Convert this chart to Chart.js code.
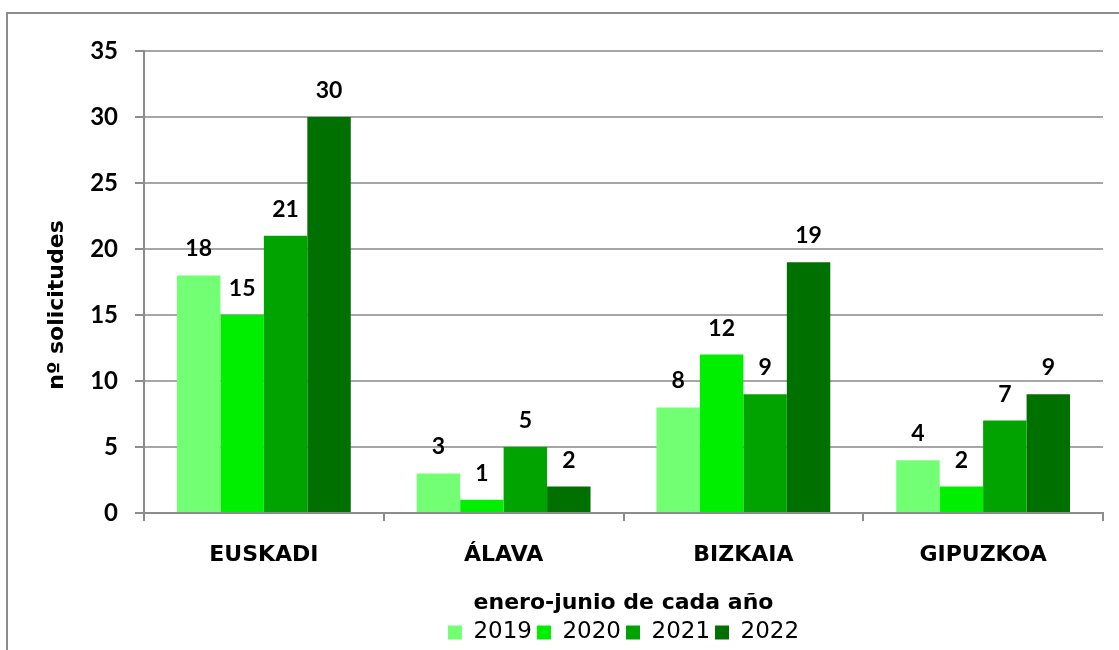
<!DOCTYPE html>
<html>
<head>
<meta charset="utf-8">
<script src="https://cdn.jsdelivr.net/npm/chart.js@4/dist/chart.umd.min.js"></script>
<style>
  html, body { margin: 0; padding: 0; background: #fff; }
  #wrap { width: 1119px; height: 650px; position: relative; }
</style>
</head>
<body>
<div id="wrap"><canvas id="chart" width="1119" height="650"></canvas></div>
<script>
// datos
const provincias = ["EUSKADI", "ÁLAVA", "BIZKAIA", "GIPUZKOA"];
const anios = ["2019", "2020", "2021", "2022"];
const v2019 = [18, 3, 8, 4];
const v2020 = [15, 1, 12, 2];
const v2021 = [21, 5, 9, 7];
const v2022 = [30, 2, 19, 9];
const colores = ["#73ff73", "#00ee00", "#00a300", "#007000"];
const yTicks = [0, 5, 10, 15, 20, 25, 30, 35];

const series = [v2019, v2020, v2021, v2022];

// marco exterior
const marco = {
  id: "marco",
  beforeDraw(chart) {
    const ctx = chart.ctx;
    ctx.save();
    ctx.fillStyle = "#fff";
    ctx.fillRect(0, 0, chart.width, chart.height);
    ctx.strokeStyle = "#8c8c8c";
    ctx.lineWidth = 2;
    ctx.strokeRect(7, 13, chart.width + 20, chart.height + 20);
    ctx.restore();
  }
};

// etiquetas encima de cada barra
const etiquetas = {
  id: "etiquetas",
  afterDatasetsDraw(chart) {
    const ctx = chart.ctx;
    ctx.save();
    ctx.font = "bold 23px Lato";
    ctx.fillStyle = "#000";
    ctx.textAlign = "center";
    ctx.textBaseline = "alphabetic";
    chart.data.datasets.forEach((ds, i) => {
      chart.getDatasetMeta(i).data.forEach((bar, j) => {
        ctx.fillText(ds.data[j], bar.x, bar.y - 19);
      });
    });
    ctx.restore();
  }
};

new Chart(document.getElementById("chart"), {
  type: "bar",
  data: {
    labels: provincias,
    datasets: anios.map((a, i) => ({
      label: a,
      data: series[i],
      backgroundColor: colores[i],
      borderWidth: 0,
      categoryPercentage: 0.725,
      barPercentage: 1
    }))
  },
  options: {
    responsive: false,
    animation: false,
    layout: { padding: { top: 51, right: 16, left: 0, bottom: -4 } },
    plugins: {
      tooltip: { enabled: false },
      legend: {
        position: "bottom",
        fullSize: false,
        labels: {
          boxWidth: 14,
          boxHeight: 14,
          padding: 5,
          color: "#000",
          font: { family: "DejaVu Sans", size: 23 }
        }
      }
    },
    scales: {
      x: {
        afterFit: (s) => { s.height = 103; },
        grid: {
          offset: true,
          drawOnChartArea: false,
          tickLength: 8,
          color: "#8c8c8c",
          lineWidth: 2
        },
        border: { color: "#8c8c8c", width: 2 },
        ticks: {
          padding: 21,
          color: "#000",
          font: { family: "DejaVu Sans", size: 22, weight: "bold" }
        },
        title: {
          display: true,
          text: "enero-junio de cada año",
          color: "#000",
          padding: { top: 0, bottom: 0 },
          font: { family: "DejaVu Sans", size: 22, weight: "bold" }
        }
      },
      y: {
        min: 0,
        max: 35,
        afterFit: (s) => { s.width = 144; },
        afterBuildTicks: (s) => { s.ticks = yTicks.map((v) => ({ value: v })); },
        grid: {
          color: "#a6a6a6",
          lineWidth: 2,
          tickLength: 9,
          tickColor: "#8c8c8c"
        },
        border: { color: "#8c8c8c", width: 2 },
        ticks: {
          padding: 17,
          color: "#000",
          font: { family: "Lato", size: 24, weight: "bold" }
        },
        title: {
          display: true,
          // espacios al final para bajar el texto como en el original
          text: "nº solicitudes" + "\u00a0".repeat(6),
          color: "#000",
          padding: { top: 44, bottom: 0 },
          font: { family: "DejaVu Sans", size: 22, weight: "bold" }
        }
      }
    }
  },
  plugins: [marco, etiquetas]
});
</script>
</body>
</html>
